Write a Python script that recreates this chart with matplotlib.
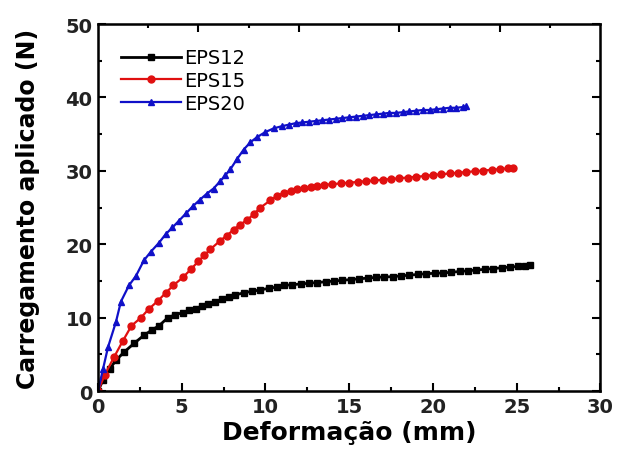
import numpy as np
import matplotlib.pyplot as plt

# leituras da curva (deformacao em mm, carga em N)
x12 = [0, 0.3, 0.7, 1.07, 1.55, 2.15, 2.74, 3.2, 3.64, 4.17, 4.6, 5.07, 5.45, 5.84,
       6.2, 6.6, 7.0, 7.4, 7.8, 8.2, 8.7, 9.2, 9.7, 10.2, 10.7, 11.1, 11.6, 12.1,
       12.6, 13.1, 13.6, 14.1, 14.6, 15.1, 15.6, 16.1, 16.6, 17.1, 17.6, 18.1, 18.6,
       19.1, 19.6, 20.1, 20.6, 21.1, 21.6, 22.1, 22.6, 23.1, 23.6, 24.1, 24.6, 25.1,
       25.5, 25.8]
y12 = [0, 1.5, 3.0, 4.2, 5.3, 6.5, 7.6, 8.3, 8.9, 10.0, 10.4, 10.7, 11.0, 11.2,
       11.6, 11.9, 12.2, 12.5, 12.8, 13.1, 13.4, 13.6, 13.8, 14.0, 14.2, 14.4, 14.5, 14.6,
       14.7, 14.8, 14.9, 15.0, 15.1, 15.2, 15.3, 15.4, 15.5, 15.55, 15.6, 15.7, 15.8,
       15.9, 16.0, 16.05, 16.1, 16.2, 16.3, 16.4, 16.5, 16.6, 16.7, 16.8, 16.9, 17.0,
       17.1, 17.2]

x15 = [0, 0.4, 0.95, 1.5, 2.0, 2.56, 3.04, 3.58, 4.05, 4.5, 5.07, 5.55, 6.0, 6.35,
       6.7, 7.3, 7.7, 8.1, 8.5, 8.9, 9.3, 9.7, 10.3, 10.7, 11.1, 11.5, 11.9, 12.3,
       12.7, 13.1, 13.5, 14.0, 14.5, 15.0, 15.5, 16.0, 16.5, 17.0, 17.5, 18.0, 18.5,
       19.0, 19.5, 20.0, 20.5, 21.0, 21.5, 22.0, 22.5, 23.0, 23.5, 24.0, 24.5, 24.8]
y15 = [0, 2.2, 4.6, 6.9, 8.9, 10.0, 11.2, 12.3, 13.4, 14.4, 15.5, 16.6, 17.7, 18.5,
       19.3, 20.5, 21.2, 22.0, 22.7, 23.3, 24.1, 25.0, 26.0, 26.6, 27.0, 27.3, 27.5, 27.7,
       27.8, 28.0, 28.1, 28.2, 28.3, 28.4, 28.5, 28.6, 28.7, 28.8, 28.9, 29.0, 29.1,
       29.2, 29.3, 29.45, 29.55, 29.65, 29.75, 29.85, 29.95, 30.05, 30.15, 30.25, 30.35, 30.4]

x20 = [0, 0.3, 0.6, 1.07, 1.37, 1.85, 2.27, 2.74, 3.16, 3.64, 4.05, 4.45, 4.83, 5.25,
       5.67, 6.1, 6.5, 6.9, 7.3, 7.6, 7.9, 8.3, 8.7, 9.1, 9.5, 10.0, 10.5, 11.0, 11.4,
       11.8, 12.2, 12.6, 13.0, 13.4, 13.8, 14.2, 14.6, 15.0, 15.4, 15.8, 16.2, 16.6,
       17.0, 17.4, 17.8, 18.2, 18.6, 19.0, 19.4, 19.8, 20.2, 20.6, 21.0, 21.4, 21.8, 22.0]
y20 = [0, 3.0, 6.0, 9.4, 12.2, 14.4, 15.7, 17.8, 19.0, 20.2, 21.4, 22.3, 23.2, 24.2,
       25.2, 26.1, 26.9, 27.6, 28.6, 29.4, 30.2, 31.6, 32.9, 33.9, 34.6, 35.3, 35.8, 36.1, 36.3,
       36.5, 36.6, 36.7, 36.8, 36.9, 37.0, 37.1, 37.2, 37.3, 37.4, 37.5, 37.6, 37.7,
       37.8, 37.9, 37.9, 38.0, 38.1, 38.2, 38.3, 38.3, 38.4, 38.5, 38.6, 38.6, 38.7, 38.8]

fig = plt.figure(figsize=(6.28, 4.56), dpi=100)
ax = fig.add_axes([0.156, 0.14, 0.8, 0.805])

ax.plot(x12, y12, '-s', color='black', lw=2.0, ms=4.5, label='EPS12')
ax.plot(x15, y15, '-o', color='#e01010', lw=1.6, ms=5, label='EPS15')
ax.plot(x20, y20, '-^', color='#1010c8', lw=1.6, ms=5, label='EPS20')

ax.set_xlim(0, 30)
ax.set_ylim(0, 50)
ax.set_xticks(np.arange(0, 31, 5))
ax.set_xticks(np.arange(2.5, 30, 5), minor=True)
ax.set_yticks(np.arange(0, 51, 10))
ax.set_yticks(np.arange(5, 50, 10), minor=True)
ax.tick_params(which='both', direction='in', width=1.5, right=True)
ax.tick_params(which='major', length=6)
ax.tick_params(which='minor', length=3)
ax.tick_params(axis='both', pad=4)
for s in ax.spines.values():
    s.set_linewidth(1.8)

for lab in ax.get_xticklabels() + ax.get_yticklabels():
    lab.set_family('DejaVu Sans')
    lab.set_fontweight('bold')
    lab.set_fontsize(14)
    lab.set_color('#222222')

# eixo de cima com marcas proprias
top = ax.twiny()
top.set_xlim(0, 30)
top.set_xticks(np.arange(6, 30, 6))
top.set_xticks(np.arange(3, 30, 6), minor=True)
top.tick_params(which='both', direction='in', width=1.5, labeltop=False)
top.tick_params(which='major', length=6)
top.tick_params(which='minor', length=3)

ax.set_xlabel('Deformação (mm)', fontsize=18, fontweight='bold', family='DejaVu Sans', labelpad=3)
ax.set_ylabel('Carregamento aplicado (N)', fontsize=17, fontweight='bold', family='DejaVu Sans', labelpad=18)

ax.legend(loc='upper left', frameon=False, numpoints=1, handlelength=3.1,
          prop={'family': 'DejaVu Sans', 'size': 14}, bbox_to_anchor=(0.03, 0.955),
          borderaxespad=0, labelspacing=0.2, handletextpad=0.15)

fig.savefig('out.png', dpi=100)
